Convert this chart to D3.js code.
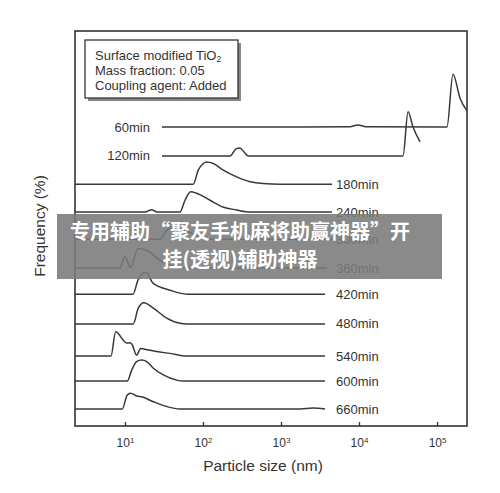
<!DOCTYPE html>
<html>
<head>
<meta charset="utf-8">
<script src="https://cdn.jsdelivr.net/npm/d3@7"></script>
<style>
  body { margin: 0; background: #fff; }
  svg text { font-family: "Liberation Sans", Arial, sans-serif; fill: #333; }
  .banner text { font-family: "Noto Sans CJK SC", sans-serif; font-weight: bold; fill: #fff; }
</style>
</head>
<body>
<div id="chart"></div>
<script>
var width = 500,
	height = 493;

// time labels and waterfall offsets (frequency units)
var times = ["60min", "120min", "180min", "240min", "300min", "360min", "420min", "480min", "540min", "600min", "660min"];
var offsets = [98.4, 88.9, 79.6, 70.4, 61.5, 52.0, 43.4, 33.6, 23.0, 14.8, 5.6];

// particle size (nm) / frequency (%) per curve
var s60 = [29.8, 1750, 7670, 9700, 12300, 134000, 160000, 197000, 242000];
var f60 = [0, 0, 0.1, 0.7, 0.1, 0, 17.4, 9.5, 5.3];
var s120 = [29.8, 222, 265, 298, 336, 378, 36600, 42500, 49200, 60500];
var f120 = [0, 0, 2.3, 2.6, 1.3, 0, 0, 14.5, 9.5, 4.6];
var s180 = [2.29, 75, 87, 101, 111, 136, 182, 270, 401, 589, 970, 4510];
var f180 = [0, 0, 4.6, 6.8, 7.3, 6.8, 4.6, 2.4, 0.8, 0.2, 0, 0];
var s240 = [2.29, 18, 22, 25.7, 50.7, 58.8, 69.5, 83, 123, 180, 270, 401, 4510];
var f240 = [0, 0, 0.8, 0, 0, 3.9, 6.7, 6.2, 3.9, 1.7, 0.7, 0, 0];
var s300 = [2.29, 28.1, 33.6, 41.2, 53.8, 81.3, 142, 4510];
var f300 = [0, 0, 2.6, 3.9, 3.3, 1.3, 0, 0];
var s360 = [2.29, 8.63, 10, 11.8, 14.7, 18.6, 28.1, 50.7, 3900];
var f360 = [0, 0, 3.6, 0.2, 6.3, 5.9, 2.6, 0, 0];
var s420 = [2.29, 12.7, 14.7, 18.6, 22.9, 37.8, 62.4, 3660];
var f420 = [0, 0, 4.6, 7.2, 3.6, 1.3, 0, 0];
var s480 = [2.29, 12.8, 14.8, 17.5, 23.1, 34.3, 50.7, 62.4, 3660];
var f480 = [0, 0, 5.2, 7.0, 5.2, 1.9, 0.2, 0, 0];
var s540 = [2.29, 6.62, 7.6, 10.5, 11.6, 12.3, 14.1, 15.9, 19.2, 25.5, 37.8, 61.8, 3660];
var f540 = [0, 0, 8.0, 4.3, 4.4, 3.9, 0.3, 2.5, 2.1, 1.5, 0.9, 0, 0];
var s600 = [2.29, 10.7, 12.2, 14.1, 16.4, 19.0, 23.1, 31.0, 46, 55.8, 3660];
var f600 = [0, 0, 3.6, 6.4, 6.9, 6.4, 4.2, 2.0, 0.3, 0, 0];
var s660 = [2.29, 9.23, 10.7, 11.8, 14.1, 16.4, 23.1, 34.3, 50.7, 1750, 2570, 3660];
var f660 = [0, 0, 4.6, 5.2, 4.3, 4.0, 2.4, 0.8, 0, 0, 0.3, 0];

var tickValues = [10, 100, 1000, 10000, 100000];
var legendLines = ["Surface modified TiO", "Mass fraction: 0.05", "Coupling agent: Added"];

var sizes = [s60, s120, s180, s240, s300, s360, s420, s480, s540, s600, s660];
var freqs = [f60, f120, f180, f240, f300, f360, f420, f480, f540, f600, f660];

var series = times.map(function (t, i) {
	return {
		name: t,
		offset: offsets[i],
		points: sizes[i].map(function (s, j) { return { size: s, freq: freqs[i][j] }; })
	};
});

var margin = { left: 75, right: 33, top: 31, bottom: 67 };

var x = d3.scaleLog()
	.domain([2.29, 242000])
	.range([margin.left, width - margin.right]);

var y = d3.scaleLinear()
	.domain([0, 130])
	.range([height - margin.bottom, margin.top]);

var svg = d3.select("#chart").append("svg")
	.attr("width", width)
	.attr("height", height);

// curves
var line = d3.line()
	.x(function (d) { return x(d.size); })
	.y(function (d) { return y(d.freq); })
	.curve(d3.curveMonotoneX);

var curves = svg.append("g").attr("class", "curves");

series.forEach(function (s) {
	var pts = s.points.map(function (p) { return { size: p.size, freq: p.freq + s.offset }; });
	curves.append("path")
		.attr("d", line(pts))
		.attr("fill", "none")
		.attr("stroke", "#383838")
		.attr("stroke-width", 1.5)
		.attr("stroke-linejoin", "round");

	var first = s.points[0];
	if (first.size > x.domain()[0]) {
		// label to the left of the curve start
		curves.append("text")
			.attr("x", x(first.size) - 12)
			.attr("y", y(s.offset))
			.attr("dy", "0.35em")
			.attr("text-anchor", "end")
			.style("font-size", "13px")
			.text(s.name);
	} else {
		curves.append("text")
			.attr("x", 336)
			.attr("y", y(s.offset))
			.attr("dy", "0.35em")
			.style("font-size", "13px")
			.text(s.name);
	}
});

// frame
svg.append("rect")
	.attr("x", margin.left)
	.attr("y", margin.top)
	.attr("width", width - margin.left - margin.right)
	.attr("height", height - margin.top - margin.bottom)
	.attr("fill", "none")
	.attr("stroke", "#333")
	.attr("stroke-width", 1.6);

// bottom axis, inward ticks
var xAxis = d3.axisBottom(x)
	.tickValues(tickValues)
	.tickSize(-4)
	.tickFormat("");

var gX = svg.append("g")
	.attr("transform", "translate(0," + (height - margin.bottom) + ")")
	.call(xAxis);
gX.select(".domain").remove();
gX.selectAll(".tick line").attr("stroke", "#333").attr("stroke-width", 1.3);

gX.selectAll(".tick").each(function (d) {
	var t = d3.select(this).append("text")
		.attr("y", 21)
		.attr("text-anchor", "middle")
		.style("font-size", "12px");
	t.append("tspan").text("10");
	t.append("tspan")
		.attr("dy", "-0.45em")
		.style("font-size", "8px")
		.text(Math.round(Math.log10(d)));
});

// axis titles
svg.append("text")
	.attr("x", 263)
	.attr("y", 471)
	.attr("text-anchor", "middle")
	.style("font-size", "15.5px")
	.text("Particle size (nm)");

svg.append("text")
	.attr("transform", "translate(45,226) rotate(-90)")
	.attr("text-anchor", "middle")
	.style("font-size", "15.5px")
	.text("Frequency (%)");

// legend box with shadow
var leg = svg.append("g").attr("transform", "translate(85,40)");
leg.append("rect")
	.attr("x", 3).attr("y", 3)
	.attr("width", 153).attr("height", 58)
	.attr("fill", "#888");
leg.append("rect")
	.attr("width", 153).attr("height", 58)
	.attr("fill", "#fff")
	.attr("stroke", "#333")
	.attr("stroke-width", 1.3);

legendLines.forEach(function (l, i) {
	var t = leg.append("text")
		.attr("x", 10)
		.attr("y", 19.5 + i * 15)
		.style("font-size", "13px")
		.text(l);
	if (i === 0) {
		t.append("tspan")
			.attr("dy", "0.3em")
			.style("font-size", "8.5px")
			.text("2");
	}
});

// overlay banner
var banner = svg.append("g").attr("class", "banner");
banner.append("rect")
	.attr("x", 57).attr("y", 214)
	.attr("width", 385).attr("height", 65)
	.attr("fill", "#7a7a7a")
	.attr("opacity", 0.88);
banner.append("text")
	.attr("x", 240).attr("y", 239)
	.attr("text-anchor", "middle")
	.style("font-size", "20px")
	.text("专用辅助“聚友手机麻将助赢神器”开");
banner.append("text")
	.attr("x", 240).attr("y", 267)
	.attr("text-anchor", "middle")
	.style("font-size", "20px")
	.text("挂(透视)辅助神器");
</script>
</body>
</html>
